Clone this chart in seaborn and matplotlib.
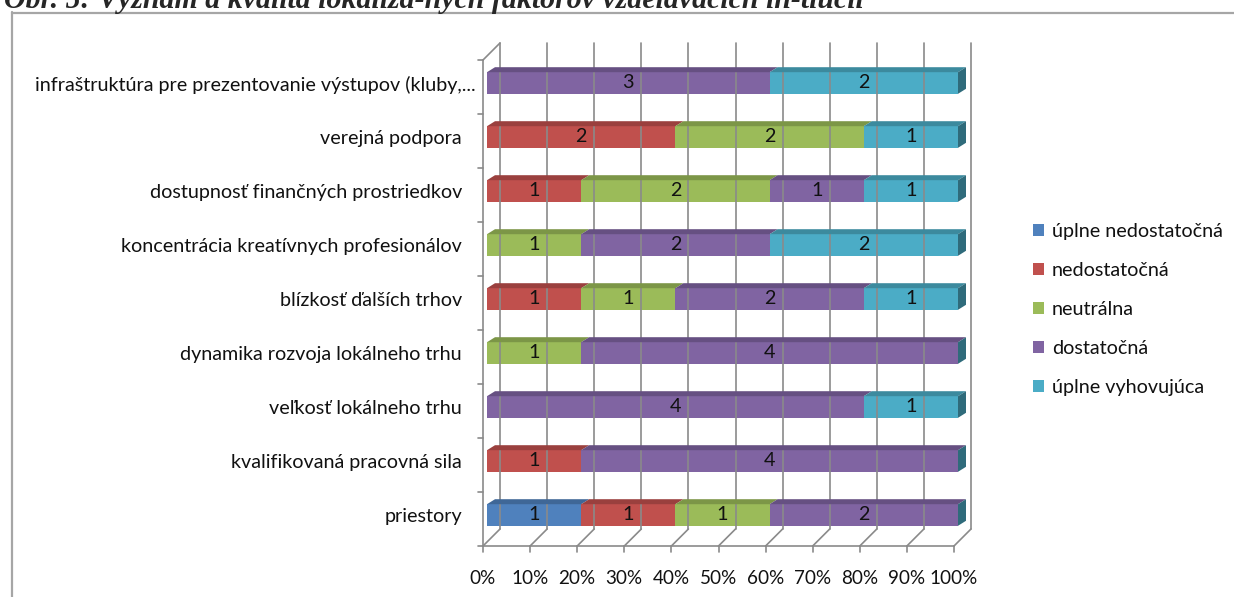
import numpy as np
import pandas as pd
import matplotlib
matplotlib.use("Agg")
import matplotlib.pyplot as plt
import matplotlib.transforms as mtransforms
from matplotlib.patches import Polygon, Rectangle
from matplotlib.lines import Line2D
import seaborn as sns

# ---------------- data ----------------
categories = [
    "infraštruktúra pre prezentovanie výstupov (kluby,...",
    "verejná podpora",
    "dostupnosť finančných prostriedkov",
    "koncentrácia kreatívnych profesionálov",
    "blízkosť ďalších trhov",
    "dynamika rozvoja lokálneho trhu",
    "veľkosť lokálneho trhu",
    "kvalifikovaná pracovná sila",
    "priestory",
]
series_names = ["úplne nedostatočná", "nedostatočná", "neutrálna", "dostatočná", "úplne vyhovujúca"]
uplne_nedostatocna = [0, 0, 0, 0, 0, 0, 0, 0, 1]
nedostatocna = [0, 2, 1, 0, 1, 0, 0, 1, 1]
neutralna = [0, 2, 2, 1, 1, 1, 0, 0, 1]
dostatocna = [3, 0, 1, 2, 2, 4, 4, 4, 2]
uplne_vyhovujuca = [2, 1, 1, 2, 1, 0, 1, 0, 0]
x_ticks = [0, 10, 20, 30, 40, 50, 60, 70, 80, 90, 100]
x_tick_labels = [f"{t}%" for t in x_ticks]
title = "Obr. 5: Význam a kvalita lokaliza-ných faktorov vzdelávacích in-tiúcií"

colors = ["#4F81BD", "#C0504D", "#9BBB59", "#8064A2", "#4BACC6"]

counts = np.array([uplne_nedostatocna, nedostatocna, neutralna, dostatocna, uplne_vyhovujuca], dtype=float)
totals = counts.sum(axis=0)
pct = counts / totals * 100.0
cum = np.cumsum(pct, axis=0)  # cumulative right edges

# ---------------- figure ----------------
W, H = 1234, 597
sns.set_theme(style="white")
plt.rcParams["font.family"] = ["Lato", "DejaVu Sans"]
fig = plt.figure(figsize=(W / 100, H / 100), dpi=100)
fig.patch.set_facecolor("white")

# bar plane: x 0% -> 487px, 100% -> 958px ; y boundaries 56px (top) .. 542px (bottom)
ax = fig.add_axes([487 / W, (H - 542) / H, (958 - 487) / W, (542 - 56) / H])
ax.set_facecolor("none")

bar_h = 0.40
# cumulative stacked bars drawn widest first
for i in range(len(series_names) - 1, -1, -1):
    df = pd.DataFrame({"cat": categories, "val": cum[i]})
    sns.barplot(data=df, y="cat", x="val", orient="h", color=colors[i],
                width=bar_h, saturation=1, ax=ax, zorder=3, linewidth=0)

ax.set_xlim(0, 100)
ax.set_ylim(len(categories) - 0.5, -0.5)
for s in ax.spines.values():
    s.set_visible(False)
ax.set_xlabel("")
ax.set_ylabel("")

fs = 14.2
ax.set_xticks(x_ticks)
ax.set_xticklabels(x_tick_labels)
ax.tick_params(axis="x", length=0, pad=20, labelsize=13.6, colors="#111111")
ax.tick_params(axis="y", length=0, pad=18, labelsize=fs, colors="#111111")
shift = mtransforms.ScaledTranslation(-4 / 100, 0, fig.dpi_scale_trans)
for lab in ax.get_xticklabels():
    lab.set_transform(lab.get_transform() + shift)
ylabs = ax.get_yticklabels()
ylabs[0].set_transform(ylabs[0].get_transform() + mtransforms.ScaledTranslation(14 / 100, 0, fig.dpi_scale_trans))

fig.canvas.draw()

T = ax.transData
grid_c = "#8a8a8a"
grid_lw = 1.2
front = np.array([-4.0, -4.0])
back = np.array([13.0, 13.0])
bdepth = np.array([8.0, 5.0])

def P(x, y, off=(0, 0)):
    p = T.transform((x, y))
    return (p[0] + off[0], p[1] + off[1])

def line(p0, p1, z=1, c=grid_c, lw=grid_lw):
    fig.add_artist(Line2D([p0[0], p1[0]], [p0[1], p1[1]], transform=mtransforms.IdentityTransform(),
                          color=c, lw=lw, zorder=z))

ybot, ytop = len(categories) - 0.5, -0.5
# back wall gridlines
for t in x_ticks:
    line(P(t, ybot, back), P(t, ytop, back))
# floor
line(P(0, ybot, front), P(100, ybot, front))
for t in x_ticks:
    line(P(t, ybot, front), P(t, ybot, back))
    a = P(t, ybot, front)
    line(a, (a[0], a[1] - 6))
# left wall
line(P(0, ybot, front), P(0, ytop, front))
line(P(0, ytop, front), P(0, ytop, back))
for k in range(len(categories) + 1):
    a = P(0, k - 0.5, front)
    line(a, (a[0] - 5, a[1]))

def darker(c, f):
    r, g, b = matplotlib.colors.to_rgb(c)
    return (r * f, g * f, b * f)

# 3D faces of bars and value labels
for j in range(len(categories)):
    top = j - bar_h / 2
    bot = j + bar_h / 2
    left = 0.0
    for i in range(len(series_names)):
        w = pct[i, j]
        if w <= 0:
            continue
        x0, x1 = left, left + w
        p0, p1 = P(x0, top), P(x1, top)
        poly = Polygon([p0, p1, (p1[0] + bdepth[0], p1[1] + bdepth[1]), (p0[0] + bdepth[0], p0[1] + bdepth[1])],
                       closed=True, transform=mtransforms.IdentityTransform(), facecolor=darker(colors[i], 0.8),
                       edgecolor="none", zorder=4)
        fig.add_artist(poly)
        ax.text((x0 + x1) / 2, j, f"{int(counts[i, j])}", ha="center", va="center",
                fontsize=fs, color="#111111", zorder=6)
        left = x1
    q0, q1 = P(100, top), P(100, bot)
    poly = Polygon([q0, q1, (q1[0] + bdepth[0], q1[1] + bdepth[1]), (q0[0] + bdepth[0], q0[1] + bdepth[1])],
                   closed=True, transform=mtransforms.IdentityTransform(), facecolor=darker(colors[-1], 0.62),
                   edgecolor="none", zorder=4)
    fig.add_artist(poly)

# legend
handles = [Rectangle((0, 0), 1, 1, facecolor=c, edgecolor="none") for c in colors]
fig.legend(handles, series_names, loc="upper left", bbox_to_anchor=(1033 / W, (H - 223) / H),
           frameon=False, fontsize=fs, handlelength=0.55, handleheight=0.55, handletextpad=0.4,
           labelspacing=1.12, borderpad=0, borderaxespad=0, labelcolor="#111111")

# outer frame (left and top edges visible)
fig.add_artist(Line2D([11.5, 11.5], [0, H - 12], transform=mtransforms.IdentityTransform(), color="#a6a6a6", lw=1.6))
fig.add_artist(Line2D([11.5, W], [H - 12.5, H - 12.5], transform=mtransforms.IdentityTransform(), color="#a6a6a6", lw=1.6))

# title (cut off at top)
fig.text(4 / W, (H - 8) / H, title, ha="left", va="baseline", fontsize=21.5,
         family=["Liberation Serif", "DejaVu Serif"], fontweight="bold", fontstyle="italic")

fig.savefig("out.png", dpi=100)
